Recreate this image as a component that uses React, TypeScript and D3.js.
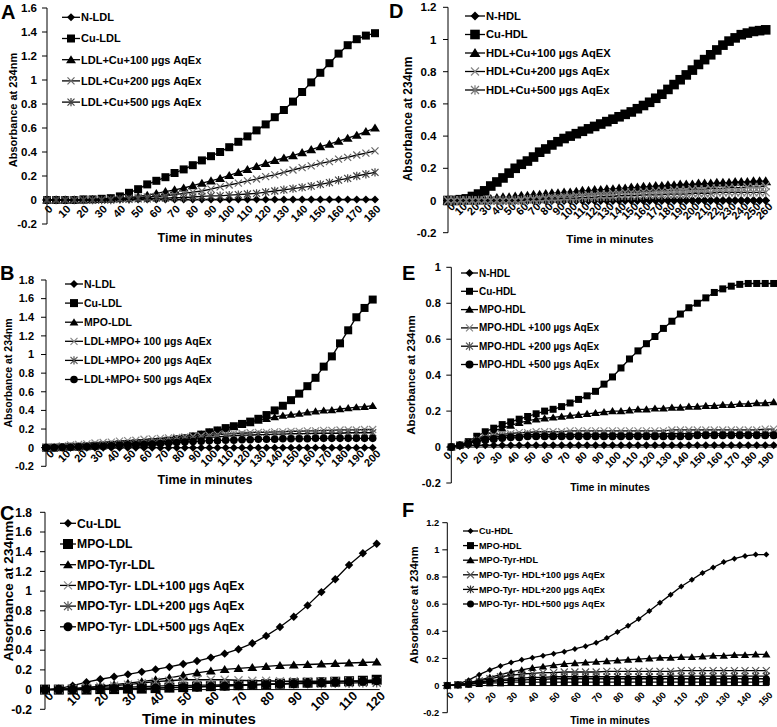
import React from "react";
import * as d3 from "d3";

// ---------------- DATA ----------------
// Panel A (every 5 min, 0..180)
const A_NLDL = [0,0,0,0,0,0.005,0.005,0.005,0.005,0.005,0.005,0.005,0.005,0.005,0.005,0.005,0.005,0.005,0.005,0.005,0.005,0.005,0.005,0.005,0.005,0.005,0.005,0.005,0.005,0.005,0.005,0.005,0.005,0.005,0.005,0.005,0.005];
const A_CuLDL = [0,0,0,0,0.005,0.005,0.01,0.015,0.03,0.06,0.09,0.13,0.16,0.19,0.225,0.255,0.29,0.33,0.365,0.40,0.44,0.485,0.53,0.58,0.63,0.69,0.75,0.82,0.90,0.98,1.06,1.14,1.22,1.29,1.34,1.37,1.39];
const A_100 = [0,0,0,0,0,0.005,0.005,0.01,0.015,0.02,0.03,0.04,0.055,0.07,0.085,0.10,0.12,0.14,0.16,0.18,0.205,0.23,0.255,0.28,0.305,0.33,0.35,0.37,0.395,0.42,0.445,0.465,0.49,0.515,0.54,0.57,0.60];
const A_200 = [0,0,0,0,0,0,0,0.005,0.01,0.015,0.02,0.025,0.03,0.035,0.045,0.055,0.065,0.075,0.09,0.11,0.125,0.14,0.16,0.175,0.195,0.21,0.23,0.25,0.27,0.285,0.305,0.32,0.34,0.355,0.375,0.39,0.41];
const A_500 = [0,0,0,0,0,0,0,0,0.005,0.005,0.01,0.01,0.015,0.015,0.02,0.02,0.025,0.03,0.035,0.035,0.04,0.045,0.05,0.055,0.065,0.075,0.085,0.095,0.105,0.115,0.13,0.145,0.165,0.18,0.20,0.215,0.23];

// Panel B (every 5 min, 0..200)
const B_NLDL = [0,0,0,0,0,0,0,0,0,0,0,0,0,0,0,0,0,0,0,0,0,0,0,0,0,0,0,0,0,0,0,0,0,0,0,0,0,0,0,0,0];
const B_CuLDL = [0,0,0.005,0.01,0.01,0.015,0.02,0.025,0.03,0.035,0.04,0.045,0.05,0.055,0.065,0.075,0.09,0.10,0.12,0.14,0.165,0.185,0.21,0.23,0.255,0.28,0.31,0.35,0.40,0.45,0.51,0.58,0.66,0.75,0.87,0.98,1.12,1.26,1.40,1.50,1.59];
const B_MPOLDL = [0,0,0.005,0.01,0.01,0.015,0.02,0.025,0.03,0.035,0.04,0.045,0.05,0.055,0.065,0.075,0.09,0.105,0.125,0.145,0.165,0.185,0.205,0.225,0.245,0.265,0.29,0.31,0.33,0.345,0.355,0.365,0.38,0.39,0.40,0.405,0.415,0.425,0.435,0.44,0.45];
const B_100 = [0,0.01,0.02,0.03,0.035,0.04,0.05,0.055,0.06,0.07,0.075,0.08,0.09,0.095,0.10,0.105,0.11,0.115,0.12,0.125,0.13,0.14,0.145,0.15,0.155,0.16,0.165,0.165,0.17,0.17,0.175,0.175,0.18,0.18,0.185,0.185,0.19,0.19,0.19,0.195,0.195];
const B_200 = [0,0,0.005,0.005,0.01,0.015,0.02,0.025,0.03,0.035,0.04,0.045,0.05,0.055,0.06,0.07,0.075,0.085,0.09,0.10,0.11,0.115,0.125,0.13,0.135,0.135,0.14,0.14,0.145,0.145,0.15,0.15,0.15,0.155,0.155,0.155,0.155,0.16,0.16,0.16,0.16];
const B_500 = [0,0,0.005,0.005,0.01,0.01,0.015,0.015,0.02,0.025,0.03,0.03,0.035,0.04,0.045,0.05,0.055,0.06,0.065,0.07,0.075,0.075,0.08,0.08,0.085,0.085,0.09,0.09,0.09,0.095,0.095,0.095,0.095,0.10,0.10,0.10,0.10,0.10,0.10,0.10,0.10];

// Panel C (every 5 min, 0..120)
const C_CuLDL = [0,0.01,0.04,0.075,0.105,0.13,0.155,0.18,0.205,0.23,0.26,0.29,0.325,0.365,0.41,0.47,0.545,0.635,0.74,0.855,0.99,1.12,1.265,1.385,1.48];
const C_MPOLDL = [0,0,0,0,0.005,0.005,0.01,0.01,0.015,0.02,0.025,0.03,0.035,0.04,0.045,0.05,0.055,0.06,0.065,0.07,0.075,0.08,0.085,0.09,0.10];
const C_TyrLDL = [0,0.005,0.01,0.02,0.035,0.05,0.065,0.08,0.10,0.12,0.145,0.17,0.19,0.205,0.215,0.225,0.235,0.245,0.25,0.255,0.26,0.265,0.27,0.275,0.28];
const C_100 = [0,0.005,0.01,0.02,0.03,0.04,0.05,0.065,0.08,0.09,0.10,0.10,0.10,0.10,0.095,0.09,0.09,0.085,0.085,0.085,0.085,0.085,0.085,0.085,0.085];
const C_200 = [0,0,0.005,0.01,0.015,0.02,0.025,0.03,0.035,0.04,0.04,0.045,0.045,0.05,0.05,0.05,0.055,0.055,0.06,0.06,0.06,0.065,0.065,0.07,0.07];
const C_500 = [0,0,0,0.005,0.005,0.01,0.01,0.015,0.015,0.02,0.02,0.025,0.03,0.035,0.04,0.045,0.05,0.055,0.06,0.065,0.07,0.075,0.08,0.085,0.09];

// Panel D (every 5 min, 0..260)
const D_NHDL = [0,0,0,0,0,0,0,0,0,0,0,0,0,0,0,0,0,0,0,0,0,0,0,0,0,0,0,0,0,0,0,0,0,0,0,0,0,0,0,0,0,0,0,0,0,0,0,0,0,0,0,0,0];
const D_CuHDL = [0,0,0.005,0.01,0.025,0.04,0.06,0.09,0.115,0.14,0.17,0.20,0.225,0.245,0.27,0.30,0.32,0.345,0.365,0.385,0.40,0.415,0.43,0.445,0.46,0.475,0.49,0.505,0.52,0.535,0.55,0.57,0.59,0.61,0.635,0.66,0.69,0.72,0.75,0.78,0.81,0.845,0.875,0.905,0.935,0.965,0.99,1.01,1.03,1.04,1.05,1.055,1.06];
const D_100 = [0,0,0,0,0,0,0.005,0.01,0.015,0.02,0.02,0.025,0.03,0.03,0.035,0.035,0.04,0.045,0.045,0.05,0.05,0.055,0.06,0.06,0.065,0.065,0.07,0.07,0.075,0.075,0.08,0.08,0.085,0.085,0.09,0.09,0.095,0.095,0.10,0.10,0.10,0.105,0.105,0.105,0.11,0.11,0.11,0.115,0.115,0.115,0.12,0.12,0.12];
const D_200 = [0,0,0,0,0,0,0,0,0,0,0,0,0.005,0.01,0.01,0.015,0.015,0.02,0.02,0.025,0.025,0.03,0.03,0.035,0.035,0.04,0.04,0.045,0.045,0.05,0.05,0.05,0.055,0.055,0.06,0.06,0.06,0.065,0.065,0.065,0.07,0.07,0.07,0.075,0.075,0.075,0.08,0.08,0.08,0.085,0.085,0.085,0.09];
const D_500 = [0,0,0,0,0,0,0,0,0,0,0,0,0,0.005,0.005,0.005,0.01,0.01,0.01,0.015,0.015,0.015,0.02,0.02,0.02,0.025,0.025,0.025,0.03,0.03,0.03,0.03,0.035,0.035,0.035,0.035,0.04,0.04,0.04,0.04,0.045,0.045,0.045,0.045,0.05,0.05,0.05,0.05,0.05,0.05,0.05,0.05,0.05];

// Panel E (every 5 min, 0..190)
const E_NHDL = [0,0.005,0.01,0.01,0.01,0.01,0.01,0.01,0.01,0.01,0.01,0.01,0.01,0.01,0.01,0.01,0.01,0.01,0.01,0.01,0.01,0.01,0.01,0.01,0.01,0.01,0.01,0.01,0.01,0.01,0.01,0.01,0.01,0.01,0.01,0.01,0.01,0.01,0.01];
const E_CuHDL = [0,0.01,0.03,0.06,0.085,0.105,0.125,0.14,0.155,0.17,0.185,0.20,0.21,0.225,0.245,0.265,0.285,0.31,0.35,0.39,0.44,0.49,0.535,0.575,0.615,0.66,0.70,0.74,0.775,0.80,0.83,0.86,0.88,0.895,0.905,0.91,0.91,0.91,0.91];
const E_MPOHDL = [0,0.01,0.025,0.045,0.065,0.09,0.105,0.12,0.135,0.145,0.155,0.16,0.165,0.17,0.175,0.18,0.185,0.19,0.195,0.20,0.20,0.205,0.21,0.21,0.215,0.215,0.22,0.22,0.225,0.225,0.23,0.23,0.235,0.235,0.24,0.24,0.245,0.245,0.25];
const E_100 = [0,0.01,0.02,0.04,0.055,0.065,0.07,0.075,0.08,0.08,0.085,0.085,0.085,0.085,0.09,0.09,0.09,0.09,0.09,0.09,0.09,0.09,0.09,0.09,0.09,0.09,0.095,0.095,0.095,0.095,0.095,0.095,0.095,0.095,0.095,0.095,0.095,0.10,0.10];
const E_200 = [0,0.01,0.02,0.035,0.045,0.055,0.06,0.065,0.065,0.07,0.07,0.07,0.07,0.07,0.07,0.07,0.07,0.07,0.07,0.07,0.07,0.07,0.07,0.07,0.07,0.075,0.075,0.075,0.075,0.075,0.075,0.075,0.075,0.075,0.075,0.075,0.075,0.075,0.08];
const E_500 = [0,0.01,0.02,0.03,0.04,0.045,0.05,0.055,0.055,0.06,0.06,0.06,0.06,0.06,0.06,0.06,0.06,0.06,0.06,0.06,0.06,0.06,0.06,0.06,0.06,0.06,0.06,0.06,0.06,0.065,0.065,0.065,0.065,0.065,0.065,0.065,0.065,0.065,0.065];

// Panel F (every 5 min, 0..150)
const F_CuHDL = [0,0.01,0.04,0.08,0.115,0.145,0.17,0.19,0.205,0.22,0.235,0.25,0.27,0.29,0.315,0.35,0.395,0.44,0.49,0.55,0.61,0.67,0.73,0.78,0.83,0.87,0.91,0.935,0.955,0.965,0.965];
const F_MPOHDL = [0,0.005,0.01,0.015,0.02,0.02,0.025,0.025,0.025,0.025,0.025,0.025,0.025,0.025,0.025,0.025,0.025,0.025,0.025,0.025,0.025,0.025,0.025,0.025,0.025,0.025,0.025,0.025,0.025,0.025,0.03];
const F_TyrHDL = [0,0.005,0.02,0.04,0.06,0.08,0.10,0.115,0.13,0.14,0.15,0.16,0.165,0.17,0.175,0.18,0.185,0.19,0.195,0.20,0.205,0.205,0.21,0.21,0.215,0.22,0.22,0.225,0.225,0.23,0.23];
const F_100 = [0,0.005,0.02,0.035,0.05,0.065,0.075,0.085,0.09,0.095,0.095,0.10,0.10,0.10,0.10,0.105,0.105,0.105,0.105,0.105,0.105,0.105,0.11,0.11,0.11,0.11,0.11,0.11,0.11,0.11,0.11];
const F_200 = [0,0.005,0.015,0.025,0.035,0.045,0.05,0.055,0.06,0.06,0.065,0.065,0.065,0.065,0.065,0.065,0.065,0.065,0.065,0.065,0.065,0.07,0.07,0.07,0.07,0.07,0.07,0.07,0.07,0.07,0.07];
const F_500 = [0,0.005,0.01,0.02,0.03,0.035,0.04,0.04,0.045,0.045,0.05,0.05,0.05,0.05,0.05,0.05,0.05,0.05,0.05,0.05,0.05,0.05,0.05,0.05,0.05,0.05,0.05,0.05,0.05,0.05,0.05];

// Axis tick values
const yTicks16 = [-0.2, 0, 0.2, 0.4, 0.6, 0.8, 1, 1.2, 1.4, 1.6];
const yTicks18 = [-0.2, 0, 0.2, 0.4, 0.6, 0.8, 1, 1.2, 1.4, 1.6, 1.8];
const yTicks12 = [-0.2, 0, 0.2, 0.4, 0.6, 0.8, 1, 1.2];
const yTicks10 = [-0.2, 0, 0.2, 0.4, 0.6, 0.8, 1];

// ---------------- LAYOUT ----------------
type S = { name: string; values: number[]; marker: string; ms: number; color?: string };
type P = {
  letter: string; lx: number; ly: number;
  x0: number; x1: number; yTop: number; yBot: number; yMax: number; tMax: number;
  yTicks: number[]; tickFont: number; xTickFont: number; yLabOff: number; xdx: number; xdy: number;
  yTitleX: number; yTitleY: number; yTitleFont: number;
  xTitleX: number; xTitleY: number; xTitleFont: number;
  legX: number; legY: number; legDy: number; legLen: number; legFont: number;
  series: S[];
};

const FONT = "'Liberation Sans', Arial, Helvetica, sans-serif";

const panels: P[] = [
  {
    letter: "A", lx: 1, ly: 19,
    x0: 47, x1: 375, yTop: 8, yBot: 224, yMax: 1.6, tMax: 180,
    yTicks: yTicks16, tickFont: 11.5, xTickFont: 11, yLabOff: 10, xdx: 3.5, xdy: 7,
    yTitleX: 13, yTitleY: 110, yTitleFont: 11,
    xTitleX: 205, xTitleY: 242, xTitleFont: 12.5,
    legX: 62, legY: 17.3, legDy: 21.2, legLen: 18, legFont: 11,
    series: [
      { name: "N-LDL", values: A_NLDL, marker: "diamond", ms: 4 },
      { name: "Cu-LDL", values: A_CuLDL, marker: "square", ms: 4 },
      { name: "LDL+Cu+100 µgs AqEx", values: A_100, marker: "triangle", ms: 4.5 },
      { name: "LDL+Cu+200 µgs AqEx", values: A_200, marker: "x", ms: 3.5, color: "#666" },
      { name: "LDL+Cu+500 µgs AqEx", values: A_500, marker: "star", ms: 3.5, color: "#444" },
    ],
  },
  {
    letter: "B", lx: 0, ly: 280,
    x0: 46, x1: 372.7, yTop: 280, yBot: 466.3, yMax: 1.8, tMax: 200,
    yTicks: yTicks18, tickFont: 11, xTickFont: 11, yLabOff: 12, xdx: 6, xdy: 4,
    yTitleX: 8, yTitleY: 373, yTitleFont: 10.5,
    xTitleX: 205, xTitleY: 484, xTitleFont: 12.5,
    legX: 65, legY: 284, legDy: 19.1, legLen: 18, legFont: 10.5,
    series: [
      { name: "N-LDL", values: B_NLDL, marker: "diamond", ms: 4 },
      { name: "Cu-LDL", values: B_CuLDL, marker: "square", ms: 4 },
      { name: "MPO-LDL", values: B_MPOLDL, marker: "triangle", ms: 4 },
      { name: "LDL+MPO+ 100 µgs AqEx", values: B_100, marker: "x", ms: 3.5, color: "#888" },
      { name: "LDL+MPO+ 200 µgs AqEx", values: B_200, marker: "star", ms: 3.5, color: "#555" },
      { name: "LDL+MPO+ 500 µgs AqEx", values: B_500, marker: "circle", ms: 3.8 },
    ],
  },
  {
    letter: "C", lx: 0, ly: 520,
    x0: 45, x1: 376.7, yTop: 512.3, yBot: 709.3, yMax: 1.8, tMax: 120,
    yTicks: yTicks18, tickFont: 12, xTickFont: 12.5, yLabOff: 13, xdx: 6, xdy: 4,
    yTitleX: 8.5, yTitleY: 591, yTitleFont: 13.5,
    xTitleX: 199, xTitleY: 724, xTitleFont: 15,
    legX: 60, legY: 523.3, legDy: 20.7, legLen: 16, legFont: 12.2,
    series: [
      { name: "Cu-LDL", values: C_CuLDL, marker: "diamond", ms: 4.2 },
      { name: "MPO-LDL", values: C_MPOLDL, marker: "square", ms: 5 },
      { name: "MPO-Tyr-LDL", values: C_TyrLDL, marker: "triangle", ms: 4.5 },
      { name: "MPO-Tyr- LDL+100 µgs AqEx", values: C_100, marker: "x", ms: 4, color: "#888" },
      { name: "MPO-Tyr- LDL+200 µgs AqEx", values: C_200, marker: "star", ms: 4, color: "#555" },
      { name: "MPO-Tyr- LDL+500 µgs AqEx", values: C_500, marker: "circle", ms: 4.5 },
    ],
  },
  {
    letter: "D", lx: 389, ly: 18,
    x0: 448, x1: 765.7, yTop: 7.3, yBot: 232.7, yMax: 1.2, tMax: 260,
    yTicks: yTicks12, tickFont: 11.5, xTickFont: 11, yLabOff: 11.5, xdx: 5, xdy: 4,
    yTitleX: 408, yTitleY: 119, yTitleFont: 12,
    xTitleX: 610, xTitleY: 243, xTitleFont: 11.5,
    legX: 465, legY: 16, legDy: 18.5, legLen: 20, legFont: 11.2,
    series: [
      { name: "N-HDL", values: D_NHDL, marker: "diamond", ms: 4.5 },
      { name: "Cu-HDL", values: D_CuHDL, marker: "square", ms: 4.8 },
      { name: "HDL+Cu+100 µgs AqEX", values: D_100, marker: "triangle", ms: 5 },
      { name: "HDL+Cu+200 µgs AqEx", values: D_200, marker: "x", ms: 4, color: "#888" },
      { name: "HDL+Cu+500 µgs AqEx", values: D_500, marker: "star", ms: 4, color: "#777" },
    ],
  },
  {
    letter: "E", lx: 402, ly: 280,
    x0: 451.3, x1: 773.7, yTop: 267.3, yBot: 483, yMax: 1, tMax: 190,
    yTicks: yTicks10, tickFont: 11, xTickFont: 10.5, yLabOff: 10.5, xdx: -2, xdy: 6.5,
    yTitleX: 411, yTitleY: 375, yTitleFont: 11.5,
    xTitleX: 610, xTitleY: 491, xTitleFont: 10.5,
    legX: 461, legY: 273, legDy: 18.3, legLen: 17, legFont: 10,
    series: [
      { name: "N-HDL", values: E_NHDL, marker: "diamond", ms: 4 },
      { name: "Cu-HDL", values: E_CuHDL, marker: "square", ms: 3.5 },
      { name: "MPO-HDL", values: E_MPOHDL, marker: "triangle", ms: 4 },
      { name: "MPO-HDL +100 µgs AqEx", values: E_100, marker: "x", ms: 3.5, color: "#888" },
      { name: "MPO-HDL +200 µgs AqEx", values: E_200, marker: "star", ms: 3.5, color: "#555" },
      { name: "MPO-HDL +500 µgs AqEx", values: E_500, marker: "circle", ms: 4 },
    ],
  },
  {
    letter: "F", lx: 402, ly: 517,
    x0: 447.3, x1: 766.3, yTop: 522.7, yBot: 712.7, yMax: 1.2, tMax: 150,
    yTicks: yTicks12, tickFont: 9.3, xTickFont: 9.3, yLabOff: 8, xdx: 4.5, xdy: 8,
    yTitleX: 414, yTitleY: 605, yTitleFont: 11.3,
    xTitleX: 610, xTitleY: 724, xTitleFont: 10.5,
    legX: 463, legY: 531, legDy: 14.6, legLen: 15, legFont: 9.1,
    series: [
      { name: "Cu-HDL", values: F_CuHDL, marker: "diamond", ms: 3 },
      { name: "MPO-HDL", values: F_MPOHDL, marker: "square", ms: 3.5 },
      { name: "MPO-Tyr-HDL", values: F_TyrHDL, marker: "triangle", ms: 3.8 },
      { name: "MPO-Tyr- HDL+100 µgs AqEx", values: F_100, marker: "x", ms: 3.5, color: "#555" },
      { name: "MPO-Tyr- HDL+200 µgs AqEx", values: F_200, marker: "star", ms: 3.3, color: "#333" },
      { name: "MPO-Tyr- HDL+500 µgs AqEx", values: F_500, marker: "circle", ms: 3.5 },
    ],
  },
];

const STEP = 5;

function Marker({ type, x, y, s, color }: { type: string; x: number; y: number; s: number; color?: string }) {
  const c = color || "#000";
  switch (type) {
    case "diamond":
      return <path d={`M${x},${y - s}L${x + s},${y}L${x},${y + s}L${x - s},${y}Z`} fill="#000" />;
    case "square":
      return <rect x={x - s} y={y - s} width={2 * s} height={2 * s} fill="#000" />;
    case "triangle":
      return <path d={`M${x},${y - s}L${x + s * 1.1},${y + s * 0.8}L${x - s * 1.1},${y + s * 0.8}Z`} fill="#000" />;
    case "x":
      return <path d={`M${x - s},${y - s}L${x + s},${y + s}M${x - s},${y + s}L${x + s},${y - s}`} stroke={c} strokeWidth={1.2} fill="none" />;
    case "star":
      return <path d={`M${x - s},${y - s}L${x + s},${y + s}M${x - s},${y + s}L${x + s},${y - s}M${x},${y - s * 1.2}L${x},${y + s * 1.2}`} stroke={c} strokeWidth={1.2} fill="none" />;
    case "circle":
      return <circle cx={x} cy={y} r={s} fill="#000" />;
    default:
      return null;
  }
}

function fmt(v: number) {
  const r = Math.round(v * 10) / 10;
  return (r < 0 ? "-" : "") + String(Math.abs(r));
}

function Panel({ p }: { p: P }) {
  const x = d3.scaleLinear().domain([0, p.tMax]).range([p.x0, p.x1]);
  const y = d3.scaleLinear().domain([-0.2, p.yMax]).range([p.yBot, p.yTop]);
  const line = d3.line<number>().x((_, i) => x(i * STEP)).y((d) => y(d));
  const xTicks = d3.range(0, p.tMax + 1, 10);
  const y0 = y(0);
  return (
    <g fontFamily={FONT} fontWeight="bold">
      <text x={p.lx} y={p.ly} fontSize={20} fontWeight="bold">{p.letter}</text>
      {/* y axis */}
      <line x1={p.x0} x2={p.x0} y1={y(p.yMax)} y2={y(-0.2)} stroke="#000" strokeWidth={1} />
      {p.yTicks.map((t) => (
        <g key={t}>
          <line x1={p.x0 - 5} x2={p.x0} y1={y(t)} y2={y(t)} stroke="#000" strokeWidth={1} />
          <text x={p.x0 - p.yLabOff} y={y(t)} dy="0.35em" textAnchor="end" fontSize={p.tickFont}>{fmt(t)}</text>
        </g>
      ))}
      {/* x axis */}
      <line x1={p.x0} x2={p.x1 + 3} y1={y0} y2={y0} stroke="#000" strokeWidth={1} />
      {xTicks.map((t) => (
        <text key={t} transform={`translate(${x(t) + p.xdx},${y0 + p.xdy}) rotate(-45)`} dy="0.35em" textAnchor="end" fontSize={p.xTickFont}>{t}</text>
      ))}
      <text transform={`translate(${p.yTitleX},${p.yTitleY}) rotate(-90)`} textAnchor="middle" dy="0.35em" fontSize={p.yTitleFont}>Absorbance at 234nm</text>
      <text x={p.xTitleX} y={p.xTitleY} textAnchor="middle" fontSize={p.xTitleFont}>Time in minutes</text>
      {/* series */}
      {p.series.map((s, si) => (
        <g key={si}>
          <path d={line(s.values) || ""} fill="none" stroke="#000" strokeWidth={1.3} />
          {s.values.map((v, i) => (
            <Marker key={i} type={s.marker} x={x(i * STEP)} y={y(v)} s={s.ms} color={s.color} />
          ))}
        </g>
      ))}
      {/* legend */}
      {p.series.map((s, si) => {
        const ly = p.legY + si * p.legDy;
        return (
          <g key={"l" + si}>
            <line x1={p.legX} x2={p.legX + p.legLen} y1={ly} y2={ly} stroke="#000" strokeWidth={1.3} />
            <Marker type={s.marker} x={p.legX + p.legLen / 2} y={ly} s={s.ms} color={s.color} />
            <text x={p.legX + p.legLen + 1} y={ly} dy="0.35em" fontSize={p.legFont}>{s.name}</text>
          </g>
        );
      })}
    </g>
  );
}

export default function App() {
  return (
    <svg width={777} height={727} style={{ display: "block", position: "absolute", left: 0, top: 0, background: "#fff" }}>
      <rect x={0} y={0} width={777} height={727} fill="#fff" />
      {panels.map((p) => (
        <Panel key={p.letter} p={p} />
      ))}
    </svg>
  );
}
